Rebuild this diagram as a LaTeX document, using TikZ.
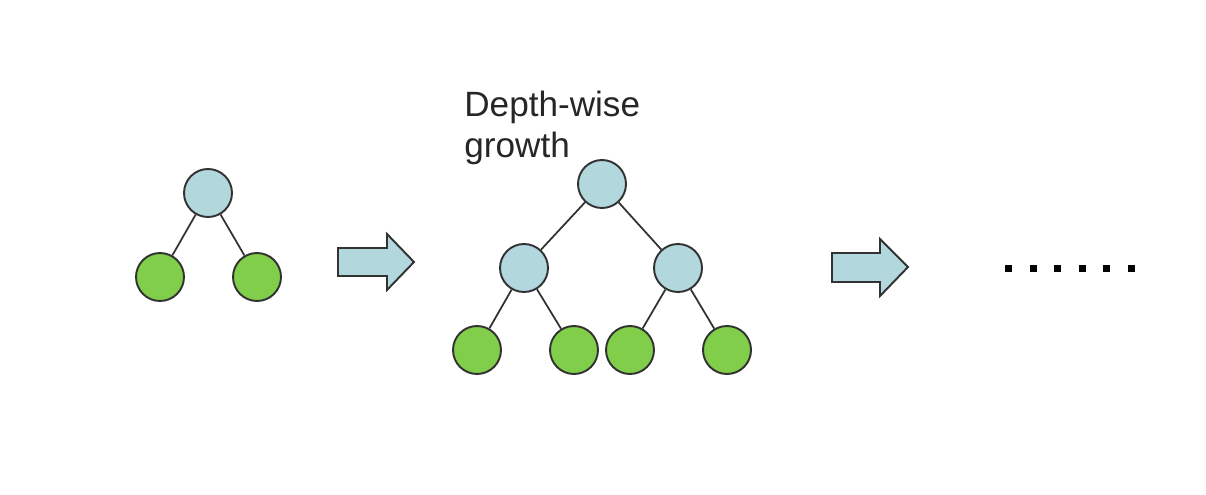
\documentclass[tikz,border=0pt]{standalone}
\usepackage{fontspec}
\setmainfont{Liberation Sans}
\definecolor{nodeblue}{RGB}{178,216,222}
\definecolor{leafgreen}{RGB}{128,206,74}
\definecolor{edgegray}{RGB}{50,50,50}
\begin{document}
\begin{tikzpicture}[x=0.02cm,y=-0.02cm,
  inner/.style={circle,draw=edgegray,line width=1.1pt,fill=nodeblue,minimum size=0.96cm,inner sep=0pt},
  leaf/.style={circle,draw=edgegray,line width=1.1pt,fill=leafgreen,minimum size=0.96cm,inner sep=0pt},
  edge/.style={draw=edgegray,line width=1pt},
  bigarrow/.style={draw=edgegray,line width=1.1pt,fill=nodeblue,line join=miter},
  dot/.style={fill=black,minimum size=0.14cm,inner sep=0pt,rectangle}]
\useasboundingbox (0,0) rectangle (1206,494);
% small tree
\node[inner] (r1) at (208,193) {};
\node[leaf] (l1) at (160,277) {};
\node[leaf] (l2) at (257,277) {};
\draw[edge] (r1) -- (l1);
\draw[edge] (r1) -- (l2);
% arrow 1
\draw[bigarrow] (338,248) -- (387,248) -- (387,234) -- (414,262) -- (387,290) -- (387,276) -- (338,276) -- cycle;
% big tree
\node[anchor=base west,align=left,font=\fontsize{20pt}{23.3pt}\selectfont,text=black!85,inner sep=0pt] (lbl) at (464,157) {Depth-wise\\growth};
\node[inner] (r2) at (602,184) {};
\node[inner] (m1) at (524,268) {};
\node[inner] (m2) at (678,268) {};
\node[leaf] (a1) at (477,350) {};
\node[leaf] (a2) at (574,350) {};
\node[leaf] (a3) at (630,350) {};
\node[leaf] (a4) at (727,350) {};
\draw[edge] (r2) -- (m1);
\draw[edge] (r2) -- (m2);
\draw[edge] (m1) -- (a1);
\draw[edge] (m1) -- (a2);
\draw[edge] (m2) -- (a3);
\draw[edge] (m2) -- (a4);
% arrow 2
\draw[bigarrow] (832,253) -- (880,253) -- (880,239) -- (908,267) -- (880,296) -- (880,282) -- (832,282) -- cycle;
% dots
\foreach \i/\x in {1/1008,2/1033,3/1057,4/1082,5/1106,6/1131}
  \node[dot] (d\i) at (\x,268) {};
\end{tikzpicture}
\end{document}
